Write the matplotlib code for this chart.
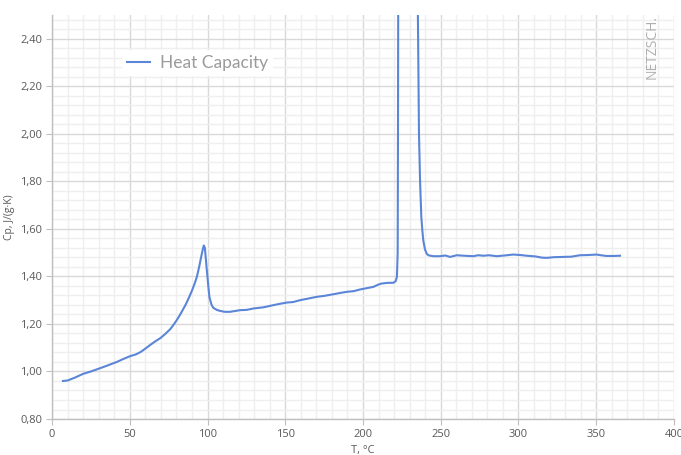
import matplotlib
matplotlib.use("Agg")
import matplotlib.pyplot as plt
from matplotlib.ticker import MultipleLocator, FuncFormatter

# temperature, degC
T = [7, 10, 15, 20, 25, 31, 36, 42, 46, 50, 54, 57, 60, 63, 66, 70, 73, 76,
     78, 80, 82, 84, 86, 88, 90, 92, 93, 94, 95, 96, 97, 97.6, 98.3, 99.5,
     100.5, 101.2, 102.5, 103.7, 106, 108, 111, 114.5, 121, 125, 129.5, 136,
     142.3, 146, 151, 155, 159.5, 165, 170.2, 175, 181, 185, 189.5, 194,
     198.1, 202, 206.7, 210, 212, 216, 219.5, 221, 221.8, 222.3, 222.5, 223,
     229, 234.5, 235.3, 236, 236.7, 237.5, 238.2, 238.8, 239.8, 240.9, 242,
     243.5, 245.2, 249.5, 253, 256, 260.3, 265, 270.9, 274, 277.4, 281, 286,
     291, 296.7, 301, 305.3, 311, 315, 318.1, 323, 328.8, 334, 339.5, 345,
     350.3, 353, 356.7, 361, 365.3]
# heat capacity, J/(g K)
Cp = [0.960, 0.962, 0.975, 0.990, 1.000, 1.014, 1.026, 1.041, 1.053, 1.064,
      1.072, 1.082, 1.096, 1.111, 1.125, 1.142, 1.159, 1.178, 1.195, 1.214,
      1.235, 1.258, 1.282, 1.310, 1.340, 1.375, 1.395, 1.422, 1.452, 1.485,
      1.515, 1.530, 1.520, 1.430, 1.360, 1.314, 1.282, 1.268, 1.259, 1.255,
      1.251, 1.251, 1.258, 1.259, 1.265, 1.270, 1.279, 1.284, 1.290, 1.292,
      1.300, 1.307, 1.314, 1.318, 1.325, 1.330, 1.335, 1.338, 1.345, 1.350,
      1.356, 1.366, 1.370, 1.373, 1.373, 1.380, 1.398, 1.500, 2.000, 4.000,
      6.000, 4.000, 2.500, 2.000, 1.800, 1.650, 1.590, 1.550, 1.515, 1.496,
      1.489, 1.487, 1.485, 1.485, 1.488, 1.482, 1.489, 1.487, 1.485, 1.489,
      1.487, 1.489, 1.485, 1.488, 1.492, 1.490, 1.487, 1.484, 1.479, 1.478,
      1.481, 1.482, 1.483, 1.489, 1.490, 1.492, 1.489, 1.486, 1.486, 1.487]

plt.rcParams['font.family'] = ['Open Sans', 'DejaVu Sans']

fig = plt.figure(figsize=(6.81, 4.55), dpi=100)
ax = fig.add_axes([0.0764, 0.0791, 0.9133, 0.888])

ax.plot(T, Cp, color='#5b86d8', lw=1.5, label='Heat Capacity')

ax.set_xlim(0, 400)
ax.set_ylim(0.8, 2.5)
ax.xaxis.set_major_locator(MultipleLocator(50))
ax.xaxis.set_minor_locator(MultipleLocator(10))
ax.yaxis.set_minor_locator(MultipleLocator(0.04))
ax.set_yticks([0.8, 1.0, 1.2, 1.4, 1.6, 1.8, 2.0, 2.2, 2.4])
ax.yaxis.set_major_formatter(FuncFormatter(lambda v, p: f'{v:.2f}'.replace('.', ',')))

ax.grid(which='major', color='#d9d9d9', lw=1.0)
ax.grid(which='minor', color='#efefef', lw=1.0)
ax.set_axisbelow(True)

for s in ['top', 'right']:
    ax.spines[s].set_visible(False)
for s in ['left', 'bottom']:
    ax.spines[s].set_color('#bfbfbf')
    ax.spines[s].set_linewidth(1.0)

ax.tick_params(which='major', length=4, color='#bfbfbf', labelsize=8,
               labelcolor='#595959', pad=3)
ax.tick_params(which='minor', length=0)

ax.set_xlabel('T, °C', fontsize=8, color='#595959', labelpad=4)
ax.set_ylabel('Cp, J/(g·K)', fontsize=7.5, color='#595959', labelpad=4)

leg = ax.legend(loc='upper left', bbox_to_anchor=(0.098, 0.935), frameon=True,
                fancybox=False, framealpha=1, edgecolor='none',
                handlelength=1.35, handletextpad=0.55, borderpad=0.3,
                prop={'family': 'Lato', 'size': 12.5})
for t in leg.get_texts():
    t.set_color('#9a9a9a')

fig.text(0.958, 0.967, 'NETZSCH.', rotation=90, ha='center', va='top',
         fontsize=10, color='#b0b0b0')

fig.savefig('out.png', dpi=100)
